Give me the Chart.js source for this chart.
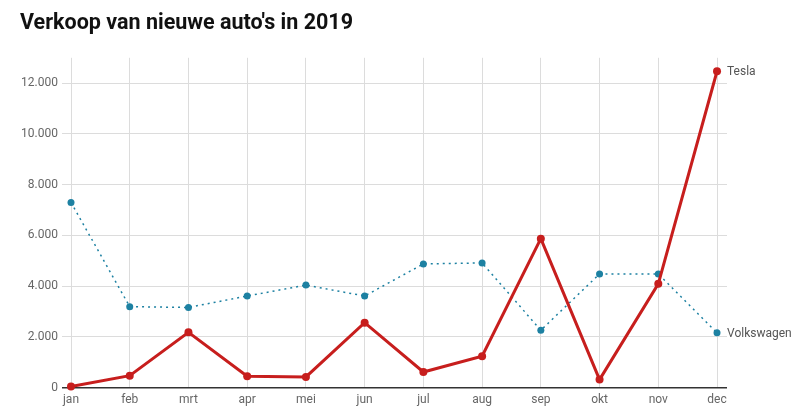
<!DOCTYPE html>
<html>
<head>
<meta charset="utf-8">
<script src="https://cdn.jsdelivr.net/npm/chart.js@4/dist/chart.umd.min.js"></script>
<style>
  body { margin: 0; background: #fff; }
  #wrap { width: 800px; height: 420px; }
</style>
</head>
<body>
<div id="wrap"><canvas id="chart"></canvas></div>
<script>
const months = ['jan', 'feb', 'mrt', 'apr', 'mei', 'jun', 'jul', 'aug', 'sep', 'okt', 'nov', 'dec'];
const tesla = [40, 470, 2180, 445, 420, 2560, 615, 1240, 5870, 315, 4090, 12470];
const volkswagen = [7300, 3190, 3160, 3610, 4040, 3610, 4875, 4915, 2260, 4480, 4480, 2160];
const seriesNames = ['Tesla', 'Volkswagen'];
const yTicks = [0, 2000, 4000, 6000, 8000, 10000, 12000];

const toPoints = arr => arr.map((v, i) => ({ x: i, y: v }));
const fmt = v => String(v).replace(/\B(?=(\d{3})+(?!\d))/g, '.');

// draws the series name next to the last point
const endLabels = {
  id: 'endLabels',
  afterDatasetsDraw(chart) {
    const ctx = chart.ctx;
    ctx.save();
    ctx.font = '12px Roboto';
    ctx.fillStyle = '#555';
    ctx.textBaseline = 'middle';
    chart.data.datasets.forEach((ds, i) => {
      const pts = chart.getDatasetMeta(i).data;
      const last = pts[pts.length - 1];
      ctx.fillText(ds.label, last.x + 10, last.y + 1);
    });
    ctx.restore();
  }
};

new Chart(document.getElementById('chart'), {
  type: 'line',
  data: {
    datasets: [
      {
        label: seriesNames[0],
        data: toPoints(tesla),
        borderColor: '#c71e1d',
        backgroundColor: '#c71e1d',
        borderWidth: 3,
        pointRadius: 4,
        pointBorderWidth: 0,
        tension: 0,
        clip: false
      },
      {
        label: seriesNames[1],
        data: toPoints(volkswagen),
        borderColor: '#1d81a2',
        backgroundColor: '#1d81a2',
        borderWidth: 1.5,
        borderDash: [2, 4],
        pointRadius: 3.5,
        pointBorderWidth: 0,
        tension: 0,
        clip: false
      }
    ]
  },
  options: {
    responsive: true,
    maintainAspectRatio: false,
    animation: false,
    layout: { padding: { left: 20, right: 73, top: 0, bottom: 8 } },
    plugins: {
      legend: { display: false },
      tooltip: { enabled: false },
      title: {
        display: true,
        text: "Verkoop van nieuwe auto's in 2019",
        align: 'start',
        color: '#111',
        font: { family: 'Roboto', size: 21.5, weight: 'bold' },
        padding: { top: 11, bottom: 21 }
      }
    },
    scales: {
      x: {
        type: 'linear',
        min: 0,
        max: 11.17,
        border: { display: false },
        grid: { color: '#dcdcdc', drawTicks: false },
        afterBuildTicks: axis => {
          axis.ticks = months.map((m, i) => ({ value: i }));
        },
        ticks: {
          color: '#666',
          font: { family: 'Roboto', size: 12 },
          padding: 5,
          maxRotation: 0,
          autoSkip: false,
          callback: v => months[v]
        }
      },
      y: {
        min: 0,
        max: 13000,
        border: { display: false },
        grid: {
          color: c => (c.tick && c.tick.value === 0 ? '#333' : '#dcdcdc'),
          lineWidth: c => (c.tick && c.tick.value === 0 ? 1.5 : 1),
          tickLength: 9
        },
        afterBuildTicks: axis => {
          axis.ticks = yTicks.map(v => ({ value: v }));
        },
        afterFit: axis => { axis.width = 51; },
        ticks: {
          color: '#666',
          font: { family: 'Roboto', size: 12 },
          padding: 4,
          autoSkip: false,
          callback: v => fmt(v)
        }
      }
    }
  },
  plugins: [endLabels]
});
</script>
</body>
</html>
